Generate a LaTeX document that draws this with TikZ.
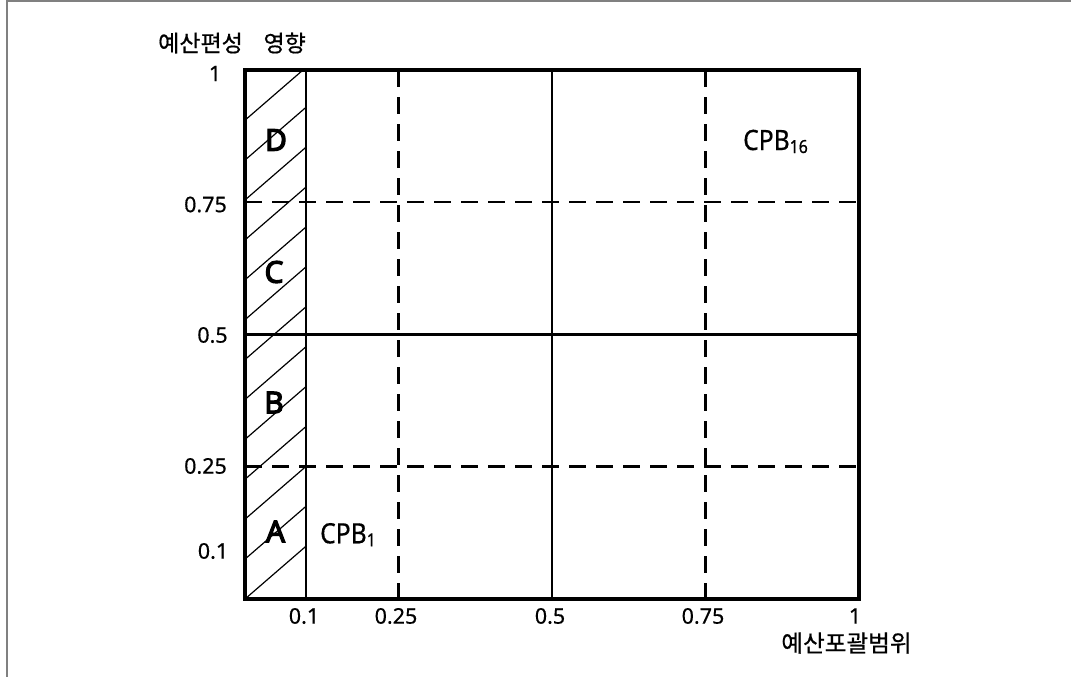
\documentclass[tikz,border=0pt]{standalone}
\usepackage{fontspec}
\setmainfont{Noto Sans}
\newfontfamily\lblfont[FakeBold=0.5]{Noto Sans}
\newfontfamily\krfont[FakeBold=0.6]{Noto Sans CJK KR}
\newfontfamily\cpbfont[FakeStretch=0.88,FakeBold=0.5]{Noto Sans}
\newfontfamily\regionfont[FakeBold=4]{Noto Sans}
\begin{document}
\begin{tikzpicture}[x=1pt,y=-1pt,
  frame/.style={draw=black!50, line width=2pt},
  outer/.style={line width=3.2pt},
  solidline/.style={line width=2.8pt},
  dashline/.style={line width=2.6pt, dash pattern=on 17pt off 10pt},
  hatch/.style={line width=1.2pt},
  tick/.style={font=\lblfont\fontsize{21.5}{24}\selectfont, inner sep=0pt},
  axis/.style={font=\krfont\fontsize{23}{26}\selectfont, inner sep=0pt},
  region/.style={font=\regionfont\fontsize{30}{34}\selectfont, inner sep=0pt},
  cpb/.style={font=\cpbfont\fontsize{28}{32}\selectfont, inner sep=0pt, anchor=base west}]
\useasboundingbox (0,0) rectangle (1071,677);
\fill[white] (0,0) rectangle (1071,677);
\draw[frame] (1071,1.5) -- (7,1.5) -- (7,677);
% hatching of the 0--0.1 strip
\begin{scope}
\clip (245,70) rectangle (306,599);
\foreach \k in {0,...,12} \draw[hatch] (245,{599-39.9*\k}) -- (306,{599-39.9*\k-52.8});
\end{scope}
% dashed grid
\draw[dashline] (398.5,70) -- (398.5,599);
\draw[dashline] (705.5,70) -- (705.5,599);
\draw[dashline] (245,202) -- (859,202);
\draw[dashline] (245,466.75) -- (859,466.75);
% solid grid
\draw[solidline] (306,70) -- (306,599);
\draw[solidline] (552,70) -- (552,599);
\draw[solidline] (245,334.5) -- (859,334.5);
\draw[outer] (245,70) rectangle (859,599);
% y tick labels
\node[tick] (y1) at (215,73.5) {1};
\node[tick] (y075) at (205.5,204.5) {0.75};
\node[tick] (y05) at (212.5,335) {0.5};
\node[tick] (y025) at (205.5,466) {0.25};
\node[tick] (y01) at (213,551) {0.1};
% x tick labels
\node[tick] (x01) at (304,616) {0.1};
\node[tick] (x025) at (396,616) {0.25};
\node[tick] (x05) at (550,616) {0.5};
\node[tick] (x075) at (703,616) {0.75};
\node[tick] (x1) at (855,616) {1};
% axis titles
\node[axis, anchor=west] (ytitle) at (158,43) {예산편성\hspace{0.9em}영향};
\node[axis, font=\krfont\fontsize{23.6}{26}\selectfont] (xtitle) at (846.5,643) {예산포괄범위};
% region letters
\node[region] (D) at (276,140) {D};
\node[region] (C) at (274,272) {C};
\node[region] (B) at (274,402.5) {B};
\node[region] (A) at (275.5,531.5) {A};
% CPB labels
\node[cpb] (cpb1) at (320,543.3) {CPB\raisebox{-3pt}{\fontsize{18}{18}\selectfont 1}};
\node[cpb] (cpb16) at (743,150) {CPB\raisebox{-3pt}{\fontsize{18}{18}\selectfont 16}};
\end{tikzpicture}
\end{document}
